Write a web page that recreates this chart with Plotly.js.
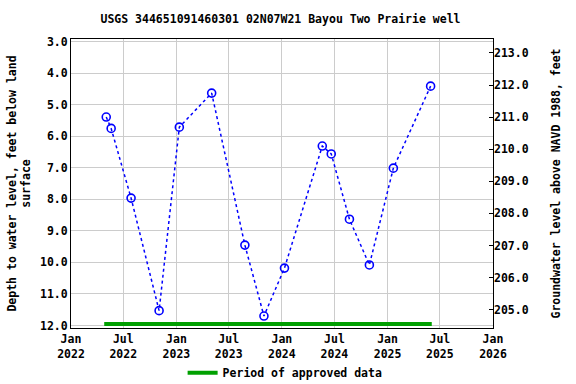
<!DOCTYPE html>
<html>
<head>
<meta charset="utf-8">
<script src="https://cdn.plot.ly/plotly-3.0.1.min.js"></script>
<style>html,body{margin:0;padding:0;background:#fff;}#chart{width:576px;height:384px;}</style>
</head>
<body>
<div id="chart"></div>
<script>
// Measurement dates and depths (feet below land surface)
const dates = ["2022-05-03","2022-05-20","2022-07-28","2022-11-02","2023-01-11","2023-05-03","2023-08-26","2023-10-31","2024-01-10","2024-05-20","2024-06-20","2024-08-22","2024-10-30","2025-01-21","2025-05-30"];
const depths = [5.39,5.75,7.96,11.53,5.71,4.63,9.45,11.70,10.18,6.31,6.56,8.63,10.08,7.01,4.41];
// Period of approved data
const approvedStart = "2022-04-26";
const approvedEnd = "2025-06-03";
const titleText = "USGS 344651091460301 02N07W21 Bayou Two Prairie well";
const leftTitle = "Depth to water level, feet below land<br>surface";
const rightTitle = "Groundwater level above NAVD 1988, feet";
const legendText = "Period of approved data";

const BAR_DEPTH = 11.95;
const FONT = {family: "DejaVu Sans Mono", size: 11.5, color: "#000", weight: "bold"};

const traces = [
  {
    x: dates, y: depths, type: "scatter", mode: "lines+markers",
    line: {color: "#0000ff", width: 1.5, dash: "dot"},
    marker: {symbol: "circle-open", size: 8, color: "#0000ff", line: {width: 1.6, color: "#0000ff"}},
    showlegend: false, hoverinfo: "skip"
  },
  {
    x: [approvedStart, approvedEnd], y: [BAR_DEPTH, BAR_DEPTH], type: "scatter", mode: "lines",
    line: {color: "#00a000", width: 4},
    name: legendText, showlegend: true, hoverinfo: "skip"
  },
  {
    x: [null], y: [null], yaxis: "y2", type: "scatter", mode: "markers",
    showlegend: false, hoverinfo: "skip"
  }
];

const layout = {
  width: 576, height: 384,
  margin: {l: 71, r: 83, t: 39, b: 56, pad: 0, autoexpand: false},
  paper_bgcolor: "#fff", plot_bgcolor: "#fff",
  font: FONT,
  title: {text: titleText, font: FONT, x: 0.487, xanchor: "center", xref: "container", y: 1 - 19/384, yanchor: "middle", yref: "container"},
  xaxis: {
    type: "date", range: ["2022-01-01", "2026-01-01"], automargin: false,
    tick0: "2022-01-01", dtick: "M6", tickformat: "%b<br>%Y",
    showgrid: true, gridcolor: "#cccccc", gridwidth: 1,
    showline: true, linecolor: "#000", linewidth: 1, mirror: true,
    ticks: "", tickfont: FONT, zeroline: false
  },
  yaxis: {
    range: [12.08, 2.914], dtick: 1, tick0: 0, tickformat: ".1f", automargin: false,
    showgrid: true, gridcolor: "#cccccc", gridwidth: 1,
    showline: true, linecolor: "#000", linewidth: 1, mirror: true,
    ticks: "", tickfont: FONT, zeroline: false,
    title: {text: leftTitle, font: FONT, standoff: 6}
  },
  yaxis2: {
    overlaying: "y", side: "right", automargin: false,
    range: [204.43, 213.436], dtick: 1, tick0: 0, tickformat: ".1f",
    showgrid: false, showline: false,
    ticks: "inside", ticklen: 4, tickcolor: "#000", tickwidth: 1,
    tickfont: FONT, zeroline: false,
    title: {text: rightTitle, font: FONT, standoff: 24}
  },
  legend: {
    orientation: "h", x: 0.495, xref: "container", xanchor: "center",
    y: 1 - 372.7/384, yref: "container", yanchor: "middle",
    font: FONT, bgcolor: "rgba(0,0,0,0)"
  },
  showlegend: true
};

Plotly.newPlot("chart", traces, layout, {displayModeBar: false, staticPlot: true});
</script>
</body>
</html>
